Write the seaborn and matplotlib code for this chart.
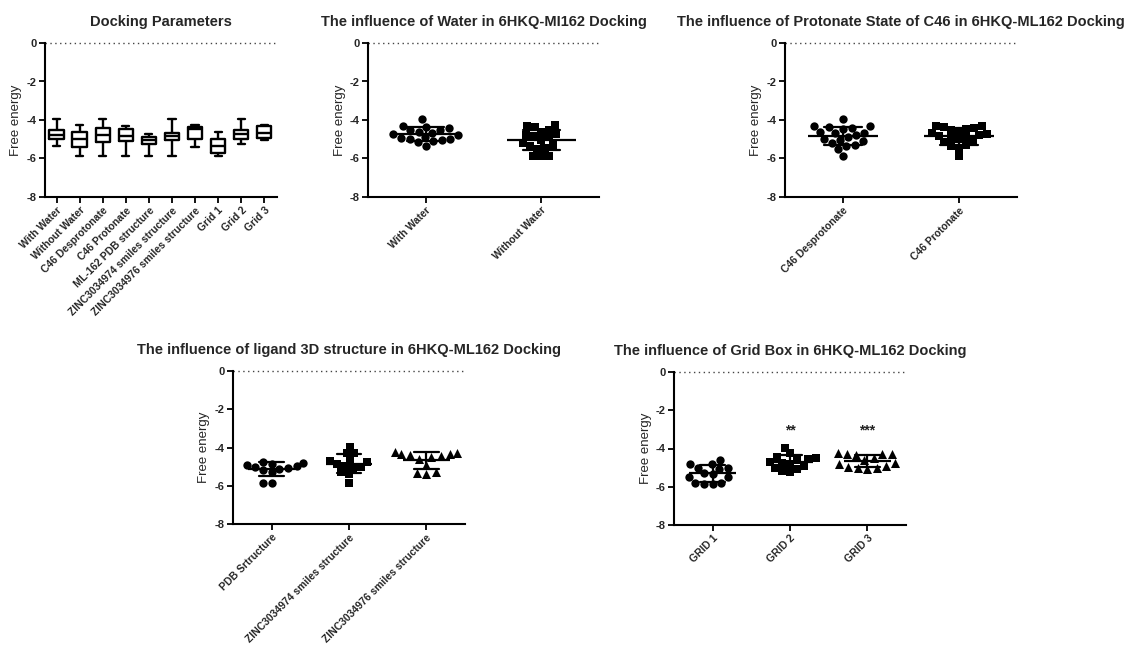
import numpy as np
import pandas as pd
import matplotlib
matplotlib.use("Agg")
import matplotlib.pyplot as plt
import seaborn as sns

# ---------------- data (free energy, kcal/mol) ----------------
with_water = [-3.95, -4.3, -4.35, -4.4, -4.5, -4.5, -4.6, -4.65, -4.75, -4.8,
              -4.9, -4.95, -5.0, -5.0, -5.05, -5.1, -5.15, -5.35]
without_water = [-4.25, -4.3, -4.35, -4.5, -4.6, -4.75, -4.8, -4.85, -4.9, -5.05,
                 -5.2, -5.3, -5.35, -5.45, -5.5, -5.85, -5.85, -5.85]
c46_desprotonate = [-3.95, -4.3, -4.3, -4.35, -4.4, -4.45, -4.6, -4.65, -4.7, -4.8,
                    -4.9, -5.0, -5.05, -5.1, -5.2, -5.3, -5.35, -5.5, -5.85]
c46_protonate = [-4.3, -4.3, -4.35, -4.4, -4.45, -4.5, -4.6, -4.7, -4.75, -4.8,
                 -4.85, -4.9, -4.95, -5.0, -5.1, -5.15, -5.3, -5.35, -5.45, -5.85]
pdb_structure = [-4.75, -4.8, -4.85, -4.9, -4.95, -5.0, -5.05, -5.1, -5.2, -5.3,
                 -5.85, -5.85]
zinc3034974 = [-3.95, -4.3, -4.3, -4.65, -4.7, -4.75, -4.85, -4.95, -5.0, -5.05,
               -5.3, -5.4, -5.85]
zinc3034976 = [-4.25, -4.3, -4.35, -4.35, -4.4, -4.45, -4.5, -4.6, -4.9, -5.3,
               -5.35, -5.4]
grid1 = [-4.6, -4.8, -4.8, -5.0, -5.0, -5.05, -5.3, -5.35, -5.5, -5.5,
         -5.8, -5.8, -5.85, -5.85]
grid2 = [-3.95, -4.25, -4.45, -4.5, -4.55, -4.6, -4.7, -4.75, -4.8, -4.9,
         -5.0, -5.05, -5.2, -5.25]
grid3 = [-4.25, -4.3, -4.3, -4.3, -4.35, -4.5, -4.6, -4.75, -4.8, -4.9,
         -4.95, -5.0, -5.0, -5.05]

box_labels = ["With Water", "Without Water", "C46 Desprotonate", "C46 Protonate",
              "ML-162 PDB structure", "ZINC3034974 smiles structure",
              "ZINC3034976 smiles structure", "Grid 1", "Grid 2", "Grid 3"]
box_values = [with_water, without_water, c46_desprotonate, c46_protonate,
              pdb_structure, zinc3034974, zinc3034976, grid1, grid2, grid3]

water_labels = ["With Water", "Without Water"]
water_values = [with_water, without_water]
proton_labels = ["C46 Desprotonate", "C46 Protonate"]
proton_values = [c46_desprotonate, c46_protonate]
ligand_labels = ["PDB Srtructure", "ZINC3034974 smiles structure",
                 "ZINC3034976 smiles structure"]
ligand_values = [pdb_structure, zinc3034974, zinc3034976]
grid_labels = ["GRID 1", "GRID 2", "GRID 3"]
grid_values = [grid1, grid2, grid3]
grid_stars = ["", "**", "***"]

titles = ["Docking Parameters",
          "The influence of Water in 6HKQ-MI162 Docking",
          "The influence of Protonate State of C46 in 6HKQ-ML162 Docking",
          "The influence of ligand 3D structure in 6HKQ-ML162 Docking",
          "The influence of Grid Box in 6HKQ-ML162 Docking"]
y_label = "Free energy"
y_ticks = [0, -2, -4, -6, -8]


def to_long(labels, values):
    rows = []
    for lab, vals in zip(labels, values):
        for v in vals:
            rows.append((lab, v))
    return pd.DataFrame(rows, columns=["group", "value"])


# ---------------- style ----------------
sns.set_theme(style="ticks")
plt.rcParams["font.family"] = ["Liberation Sans", "DejaVu Sans"]
plt.rcParams["axes.unicode_minus"] = False

W, H = 1131, 652
fig = plt.figure(figsize=(W / 100, H / 100), dpi=100)


def rect(l, r, t, b):
    return [l / W, 1 - b / H, (r - l) / W, (b - t) / H]


def style_axes(ax, labels, title, xlim):
    ax.set_ylim(-8, 0)
    ax.set_xlim(*xlim)
    ax.axhline(0, ls=(0, (1, 2.5)), color="#444444", lw=1.0, clip_on=False, zorder=0)
    for s in ["top", "right"]:
        ax.spines[s].set_visible(False)
    for s in ["left", "bottom"]:
        ax.spines[s].set_linewidth(1.5)
        ax.spines[s].set_color("black")
    ax.set_yticks(y_ticks)
    ax.set_yticklabels([str(t) for t in y_ticks], fontsize=8, fontweight="bold")
    ax.set_xticks(range(len(labels)))
    ax.set_xticklabels(labels, rotation=45, ha="right", rotation_mode="anchor",
                       fontsize=7.5, fontweight="bold")
    ax.tick_params(axis="both", length=4, width=1.3, color="black", pad=2)
    ax.set_xlabel("")
    ax.set_ylabel(y_label, fontsize=9.5, labelpad=3)
    ax.set_title(title, fontsize=10.5, fontweight="bold", pad=12)


marker_area = {"o": 6.0 ** 2, "s": 5.5 ** 2, "^": 6.5 ** 2}


def scatter_panel(ax, labels, values, markers, title):
    df = to_long(labels, values)
    for lab, m in zip(labels, markers):
        sub = df[df["group"] == lab]
        n_before = len(ax.collections)
        sns.swarmplot(data=sub, x="group", y="value", order=labels, marker=m,
                      color="black", size=8.5, ax=ax, zorder=3,
                      warn_thresh=1.0)
        for coll in ax.collections[n_before:]:
            coll.set_sizes([marker_area[m]])
    sns.pointplot(data=df, x="group", y="value", order=labels, errorbar="sd",
                  capsize=0.32, color="black", linestyle="none", marker="",
                  err_kws={"linewidth": 1.6}, ax=ax, zorder=4)
    means = df.groupby("group")["value"].mean()
    for i, lab in enumerate(labels):
        ax.hlines(means[lab], i - 0.3, i + 0.3, color="black", lw=1.6, zorder=4)
    style_axes(ax, labels, title, (-0.5, len(labels) - 0.5))
    return df


# Panel 1: box plots
ax1 = fig.add_axes(rect(45, 277, 43, 197))
df_box = to_long(box_labels, box_values)
sns.boxplot(data=df_box, x="group", y="value", order=box_labels, whis=(0, 100),
            fill=False, color="black", linewidth=1.7, width=0.62,
            showfliers=False, ax=ax1)
style_axes(ax1, box_labels, titles[0], (-0.5, 9.55))

# Panel 2: water
ax2 = fig.add_axes(rect(368, 599, 43, 197))
scatter_panel(ax2, water_labels, water_values, ["o", "s"], titles[1])

# Panel 3: protonate
ax3 = fig.add_axes(rect(785, 1017, 43, 197))
scatter_panel(ax3, proton_labels, proton_values, ["o", "s"], titles[2])

# Panel 4: ligand structure
ax4 = fig.add_axes(rect(233, 465, 371, 524))
scatter_panel(ax4, ligand_labels, ligand_values, ["o", "s", "^"], titles[3])

# Panel 5: grid box
ax5 = fig.add_axes(rect(674, 906, 372, 525))
scatter_panel(ax5, grid_labels, grid_values, ["o", "s", "^"], titles[4])
for i, s in enumerate(grid_stars):
    if s:
        ax5.text(i, -3.25, s, ha="center", va="baseline", fontsize=10,
                 fontweight="bold", color="#222222")

fig.savefig("out.png", dpi=100)
